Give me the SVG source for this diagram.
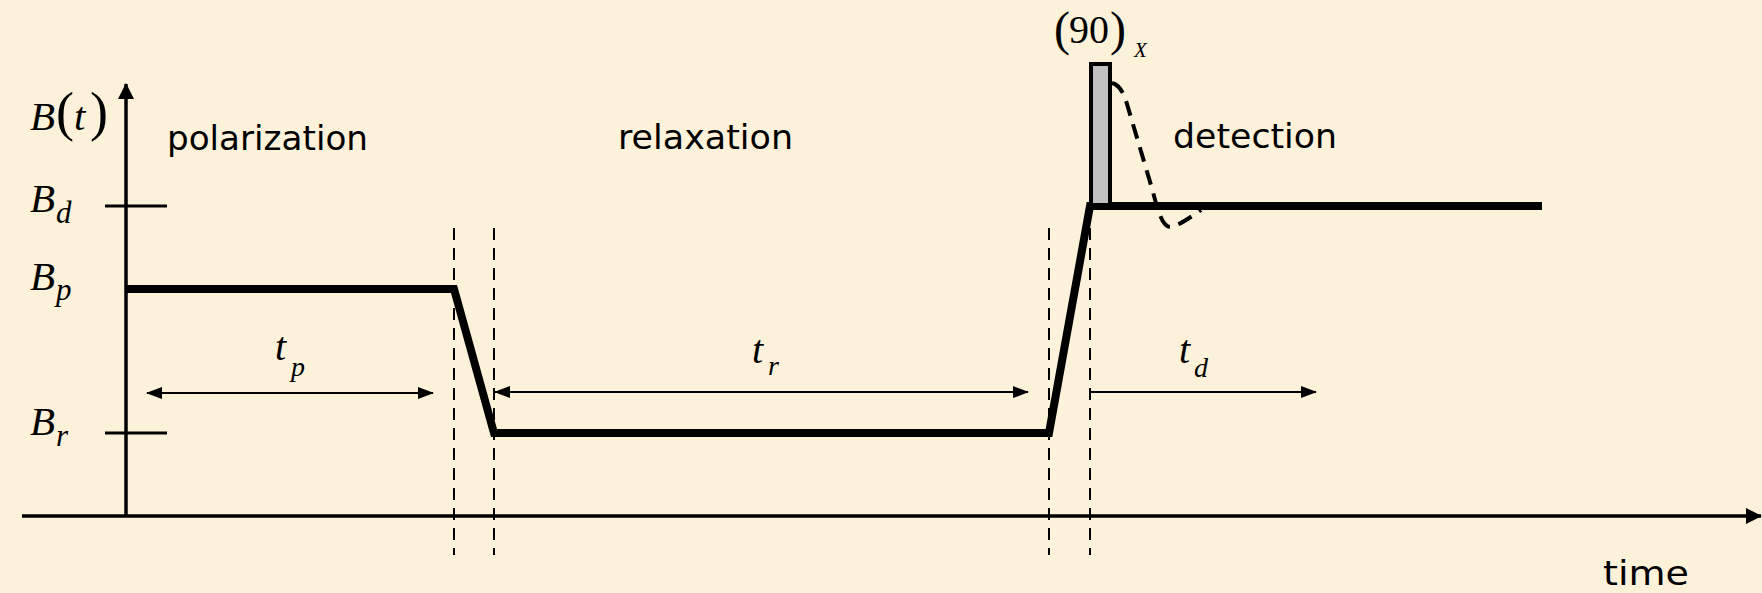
<svg xmlns="http://www.w3.org/2000/svg" width="1762" height="593" viewBox="0 0 1762 593">
<defs>
<style>
.lbl{font-family:"DejaVu Sans","Liberation Sans",sans-serif;font-size:33px;fill:#000}
.m{font-family:"Liberation Serif",serif;font-style:italic;fill:#000}
.r{font-family:"Liberation Serif",serif;fill:#000}
.dash{stroke:#000;stroke-width:2;stroke-dasharray:12 8;fill:none}
.dim{stroke:#000;stroke-width:2;fill:none}
.tick{stroke:#000;stroke-width:3}
</style>
<marker id="ah" viewBox="0 0 16 12" refX="15" refY="6" markerWidth="16" markerHeight="12" markerUnits="userSpaceOnUse" orient="auto-start-reverse">
<path d="M0,0 L16,6 L0,12 Z" fill="#000"/>
</marker>
<marker id="ahBig" viewBox="0 0 16 16" refX="15" refY="8" markerWidth="16" markerHeight="16" markerUnits="userSpaceOnUse" orient="auto">
<path d="M0,0 L16,8 L0,16 Z" fill="#000"/>
</marker>
</defs>
<rect x="0" y="0" width="1762" height="593" fill="#fcf1d9"/>

<g id="connectors">
<line x1="22" y1="516" x2="1761" y2="516" stroke="#000" stroke-width="3.5" marker-end="url(#ahBig)"/>
<line x1="126" y1="517" x2="126" y2="84" stroke="#000" stroke-width="3.5" marker-end="url(#ahBig)"/>
<line class="tick" x1="105" y1="206" x2="167" y2="206"/>
<line class="tick" x1="105" y1="433" x2="167" y2="433"/>
<line class="dash" x1="454" y1="228" x2="454" y2="555"/>
<line class="dash" x1="494" y1="228" x2="494" y2="555"/>
<line class="dash" x1="1049" y1="228" x2="1049" y2="555"/>
<line class="dash" x1="1090" y1="228" x2="1090" y2="555"/>
<line class="dim" x1="147" y1="393" x2="433" y2="393" marker-start="url(#ah)" marker-end="url(#ah)"/>
<line class="dim" x1="495" y1="392" x2="1028" y2="392" marker-start="url(#ah)" marker-end="url(#ah)"/>
<line class="dim" x1="1091" y1="392" x2="1316" y2="392" marker-end="url(#ah)"/>
<path d="M1112,83 C1120,85 1124,94 1127,104 L1153,192 C1158,212 1163,228 1171,227 C1180,225 1192,216 1201,210" fill="none" stroke="#000" stroke-width="4" stroke-dasharray="15 9"/>
<polyline points="126,289 454,289 494,433 1049,433 1090,206 1542,206" fill="none" stroke="#000" stroke-width="8" stroke-linejoin="miter"/>
</g>

<g id="pulse">
<rect x="1091" y="64" width="19" height="141" fill="#c0c0c0" stroke="#000" stroke-width="4"/>
</g>

<g id="label-Bt">
<text class="m" x="30" y="130" font-size="41">B</text>
<text class="r" x="56" y="130" font-size="54">(</text>
<text class="m" x="74" y="130" font-size="41">t</text>
<text class="r" x="90" y="130" font-size="54">)</text>
</g>
<g id="label-Bd">
<text class="m" x="30" y="212" font-size="41">B</text>
<text class="m" x="56" y="223" font-size="31">d</text>
</g>
<g id="label-Bp">
<text class="m" x="30" y="290" font-size="41">B</text>
<text class="m" x="56" y="300" font-size="31">p</text>
</g>
<g id="label-Br">
<text class="m" x="30" y="435" font-size="41">B</text>
<text class="m" x="56" y="446" font-size="31">r</text>
</g>
<g id="label-tp">
<text class="m" x="275" y="360" font-size="40">t</text>
<text class="m" x="291" y="376" font-size="28">p</text>
</g>
<g id="label-tr">
<text class="m" x="752" y="363" font-size="40">t</text>
<text class="m" x="768" y="375" font-size="28">r</text>
</g>
<g id="label-td">
<text class="m" x="1179" y="363" font-size="40">t</text>
<text class="m" x="1194" y="377" font-size="28">d</text>
</g>
<g id="label-90x">
<text class="r" x="1054" y="45" font-size="48">(</text>
<text class="r" x="1069" y="43" font-size="40">90</text>
<text class="r" x="1110" y="45" font-size="48">)</text>
<text class="m" x="1134" y="57" font-size="21">X</text>
</g>
<g id="polarization"><text class="lbl" x="167" y="150" textLength="201" lengthAdjust="spacingAndGlyphs">polarization</text></g>
<g id="relaxation"><text class="lbl" x="618" y="149" textLength="175" lengthAdjust="spacingAndGlyphs">relaxation</text></g>
<g id="detection"><text class="lbl" x="1173" y="148" textLength="164" lengthAdjust="spacingAndGlyphs">detection</text></g>
<g id="time"><text class="lbl" x="1603" y="585" textLength="86" lengthAdjust="spacingAndGlyphs">time</text></g>
</svg>
